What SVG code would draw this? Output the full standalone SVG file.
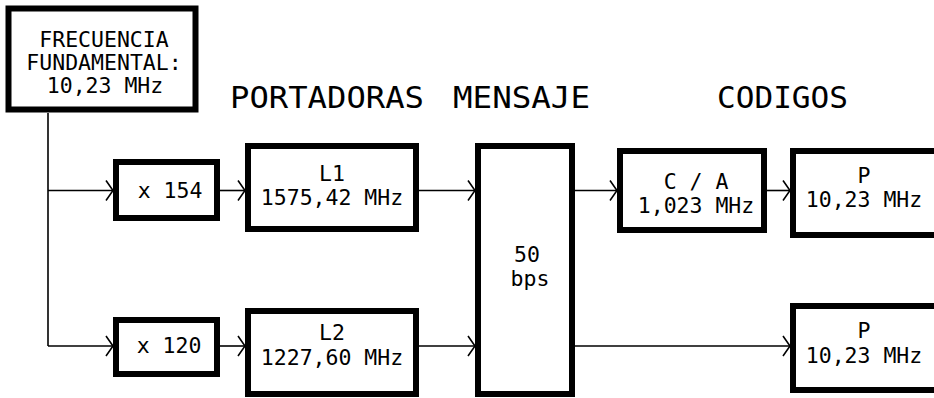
<svg xmlns="http://www.w3.org/2000/svg" width="934" height="398" viewBox="0 0 934 398">
<style>
.box{fill:#fff;stroke:#000;stroke-width:6}
.ln{fill:none;stroke:#000;stroke-width:1.6}
text{font-family:"DejaVu Sans Mono","Liberation Mono",monospace;fill:#000;text-anchor:middle}
.t{font-size:21.5px}
.h{font-size:31px;text-anchor:start}
</style>
<defs>
<marker id="ar" markerUnits="userSpaceOnUse" markerWidth="12" markerHeight="26" viewBox="-10 -13 12 26" refX="0" refY="0" orient="auto" overflow="visible">
<path d="M-7,-10 L0,0 L-7,10" fill="none" stroke="#000" stroke-width="1.6"/>
</marker>
</defs>
<rect width="934" height="398" fill="#fff"/>
<g id="connectors">
<path class="ln" d="M48,113 V346"/>
<path class="ln" d="M48,190.5 H113" marker-end="url(#ar)"/>
<path class="ln" d="M48,346 H113" marker-end="url(#ar)"/>
<path class="ln" d="M220,190.5 H245" marker-end="url(#ar)"/>
<path class="ln" d="M220,346 H245" marker-end="url(#ar)"/>
<path class="ln" d="M419,190.5 H475" marker-end="url(#ar)"/>
<path class="ln" d="M419,346 H475" marker-end="url(#ar)"/>
<path class="ln" d="M575,190.5 H617" marker-end="url(#ar)"/>
<path class="ln" d="M767,190.5 H790" marker-end="url(#ar)"/>
<path class="ln" d="M575,346 H790" marker-end="url(#ar)"/>
</g>
<g id="headings">
<text class="h" x="230" y="108" textLength="194" lengthAdjust="spacingAndGlyphs">PORTADORAS</text>
<text class="h" x="453" y="108" textLength="137" lengthAdjust="spacingAndGlyphs">MENSAJE</text>
<text class="h" x="717" y="108" textLength="131" lengthAdjust="spacingAndGlyphs">CODIGOS</text>
</g>
<g id="fundamental">
<rect class="box" x="8.5" y="8.5" width="187" height="101"/>
<text class="t" x="104" y="47">FRECUENCIA</text>
<text class="t" x="104" y="70">FUNDAMENTAL:</text>
<text class="t" x="105" y="93">10,23 MHz</text>
</g>
<g id="x154">
<rect class="box" x="116" y="162" width="101" height="56"/>
<text class="t" x="170" y="198">x 154</text>
</g>
<g id="x120">
<rect class="box" x="116" y="320" width="101" height="54"/>
<text class="t" x="169" y="353">x 120</text>
</g>
<g id="L1">
<rect class="box" x="248" y="146" width="168" height="83"/>
<text class="t" x="332" y="181">L1</text>
<text class="t" x="332" y="205">1575,42 MHz</text>
</g>
<g id="L2">
<rect class="box" x="248" y="311" width="168" height="83"/>
<text class="t" x="332" y="340">L2</text>
<text class="t" x="332" y="365">1227,60 MHz</text>
</g>
<g id="mensaje">
<rect class="box" x="478" y="146" width="94" height="248"/>
<text class="t" x="527" y="262">50</text>
<text class="t" x="530" y="286">bps</text>
</g>
<g id="ca">
<rect class="box" x="620" y="151" width="144" height="79"/>
<text class="t" x="696" y="189">C / A</text>
<text class="t" x="696" y="213">1,023 MHz</text>
</g>
<g id="p1">
<rect class="box" x="793" y="151" width="200" height="84"/>
<text class="t" x="864" y="183">P</text>
<text class="t" x="864" y="207">10,23 MHz</text>
</g>
<g id="p2">
<rect class="box" x="793" y="306" width="200" height="84"/>
<text class="t" x="864" y="338">P</text>
<text class="t" x="864" y="363">10,23 MHz</text>
</g>
</svg>
